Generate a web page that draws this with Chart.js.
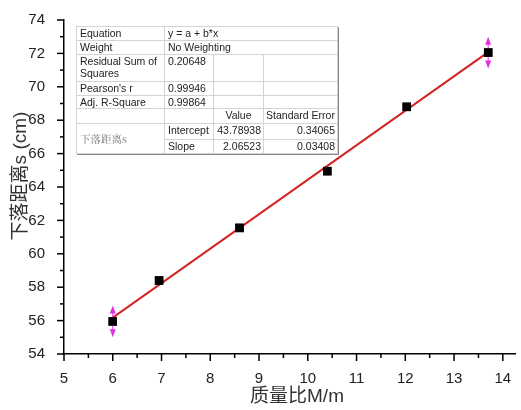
<!DOCTYPE html>
<html>
<head>
<meta charset="utf-8">
<script src="https://cdn.jsdelivr.net/npm/chart.js@4"></script>
<style>
  body { margin: 0; background: #fff; }
  #wrap { position: relative; width: 521px; height: 410px; }
  #fitTable {
    position: absolute; left: 76px; top: 26px; width: 261px;
    border-collapse: collapse; table-layout: fixed;
    font-family: "Liberation Sans", Arial, sans-serif; font-size: 10.5px; color: #222;
    background: #fff; border: 1px solid #999;
    box-shadow: 1px 1px 0 #888;
  }
  #fitTable td { border: 1px solid #d4d4d4; padding: 0 2px 0 3px; line-height: 12px; white-space: nowrap; vertical-align: top; overflow: hidden; }
  #fitTable td.r { text-align: right; }
  #fitTable td.c { text-align: center; padding: 0; }
  #fitTable td.cjk { font-family: "Noto Serif CJK SC", "Noto Sans CJK SC", serif; color: #777; vertical-align: middle; }
</style>
</head>
<body>
<div id="wrap">
  <canvas id="chart" width="521" height="410"></canvas>
  <table id="fitTable"></table>
</div>
<script>
//Data
const xValues = [6.0, 6.95, 8.6, 10.4, 12.03, 13.7];
const yValues = [55.95, 58.4, 61.55, 64.95, 68.8, 72.05];
const yErrors = [0.95, 0, 0, 0, 0, 0.95];   //only first and last point show bars
const fitX = [6.0, 13.7];
const fitY = [56.18, 72.08];

//Fit report
const statNames = ["Equation", "Weight", "Residual Sum of<br>Squares", "Pearson's r", "Adj. R-Square"];
const statValues = ["y = a + b*x", "No Weighting", "0.20648", "0.99946", "0.99864"];
const paramNames = ["Intercept", "Slope"];
const paramValues = ["43.78938", "2.06523"];
const paramErrors = ["0.34065", "0.03408"];
const seriesName = "下落距离s";

//Axis titles
const xTitle = "质量比M/m";
const yTitle = "下落距离s (cm)";

//Build the table
var colW = [88, 49, 50, 74];
var rowH = [14, 14, 27, 14, 13, 15, 16, 14];
var html = "<colgroup>" + colW.map(w => '<col style="width:' + w + 'px">').join("") + "</colgroup>";
for (var i = 0; i < statNames.length; i++) {
  html += '<tr style="height:' + rowH[i] + 'px"><td>' + statNames[i] + '</td>';
  if (i < 2) html += '<td colspan="3">' + statValues[i] + '</td></tr>';
  else html += '<td>' + statValues[i] + '</td><td></td><td></td></tr>';
}
html += '<tr style="height:' + rowH[5] + 'px"><td></td><td></td><td class="c">Value</td><td class="c">Standard Error</td></tr>';
for (var j = 0; j < paramNames.length; j++) {
  html += '<tr style="height:' + rowH[6 + j] + 'px">';
  if (j == 0) html += '<td class="cjk" rowspan="2">' + seriesName + '</td>';
  html += '<td>' + paramNames[j] + '</td><td class="r">' + paramValues[j] + '</td><td class="r">' + paramErrors[j] + '</td></tr>';
}
document.getElementById("fitTable").innerHTML = html;

const titleFont = "'Liberation Sans', 'Noto Sans CJK SC', sans-serif";

//Ticks (major + minor, outward), error arrows and axis titles
const decoPlugin = {
  id: 'deco',
  afterDatasetsDraw(chart) {
    const ctx = chart.ctx;
    const xs = chart.scales.x, ys = chart.scales.y;
    const area = chart.chartArea;
    ctx.save();
    ctx.strokeStyle = '#000';
    ctx.lineWidth = 1.5;
    for (var v = 5; v <= 14.001; v += 0.5) {
      var px = xs.getPixelForValue(v);
      var len = (Math.abs(v - Math.round(v)) < 0.01) ? 7 : 4;
      ctx.beginPath(); ctx.moveTo(px, area.bottom); ctx.lineTo(px, area.bottom + len); ctx.stroke();
    }
    for (var w = 54; w <= 74.001; w += 1) {
      var py = ys.getPixelForValue(w);
      var len2 = (w % 2 == 0) ? 7 : 4;
      ctx.beginPath(); ctx.moveTo(area.left, py); ctx.lineTo(area.left - len2, py); ctx.stroke();
    }
    //error bars as magenta double arrows
    ctx.strokeStyle = '#e030e0';
    ctx.fillStyle = '#e030e0';
    ctx.lineWidth = 1;
    for (var k = 0; k < xValues.length; k++) {
      if (!yErrors[k]) continue;
      var cx = xs.getPixelForValue(xValues[k]);
      var top = ys.getPixelForValue(yValues[k] + yErrors[k]);
      var bot = ys.getPixelForValue(yValues[k] - yErrors[k]);
      ctx.beginPath(); ctx.moveTo(cx, top + 4); ctx.lineTo(cx, bot - 4); ctx.stroke();
      ctx.beginPath(); ctx.moveTo(cx, top); ctx.lineTo(cx - 3, top + 8); ctx.lineTo(cx + 3, top + 8); ctx.closePath(); ctx.fill();
      ctx.beginPath(); ctx.moveTo(cx, bot); ctx.lineTo(cx - 3, bot - 8); ctx.lineTo(cx + 3, bot - 8); ctx.closePath(); ctx.fill();
    }
    //axis titles
    ctx.fillStyle = '#333';
    ctx.textAlign = 'center';
    ctx.textBaseline = 'middle';
    ctx.font = "19px " + titleFont;
    ctx.fillText(xTitle, 297, 397);
    ctx.translate(21, 176);
    ctx.rotate(-Math.PI / 2);
    ctx.font = "19px " + titleFont;
    ctx.fillText(yTitle, 0, 0);
    ctx.restore();
  }
};

//Points drawn above arrows: second pass
const pointsOnTop = {
  id: 'pointsOnTop',
  afterDraw(chart) {
    chart.getDatasetMeta(0).controller.draw();
  }
};

const labelFont = { family: "'Liberation Sans', Arial, sans-serif", size: 15 };

const chartFall = new Chart(document.getElementById('chart'), {
  type: 'scatter',
  data: {
    datasets: [{
      label: 'points',
      data: xValues.map((x, i) => ({ x: x, y: yValues[i] })),
      pointStyle: 'rect',
      pointRadius: 6,
      backgroundColor: '#000',
      borderColor: '#000',
      borderWidth: 0,
      order: 1
    }, {
      label: 'fit',
      data: fitX.map((x, i) => ({ x: x, y: fitY[i] })),
      showLine: true,
      pointRadius: 0,
      borderColor: '#d42424',
      borderWidth: 2,
      order: 2
    }]
  },
  options: {
    responsive: false,
    animation: false,
    events: [],
    layout: { padding: { top: 20, right: 1, left: 0, bottom: 0 } },
    plugins: { legend: { display: false }, tooltip: { enabled: false } },
    scales: {
      x: {
        type: 'linear', min: 5, max: 14.25,
        grid: { display: false },
        border: { display: true, color: '#000', width: 1.5 },
        ticks: { stepSize: 1, includeBounds: false, color: '#222', font: labelFont, padding: 8, maxRotation: 0 },
        afterFit(scale) { scale.height = 56; }
      },
      y: {
        type: 'linear', min: 54, max: 74,
        grid: { display: false },
        border: { display: true, color: '#000', width: 1.5 },
        ticks: { stepSize: 2, color: '#222', font: labelFont, padding: 11 },
        afterFit(scale) { scale.width = 64; }
      }
    }
  },
  plugins: [decoPlugin, pointsOnTop]
});
</script>
</body>
</html>
